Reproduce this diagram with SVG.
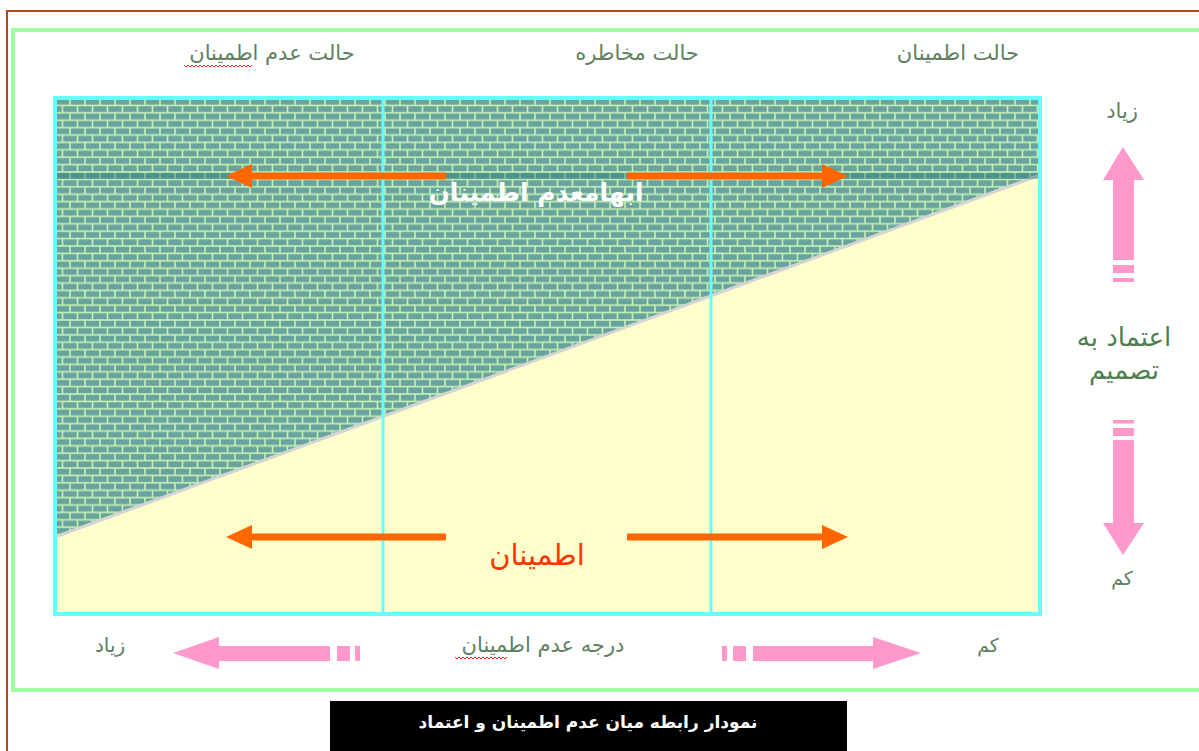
<svg xmlns="http://www.w3.org/2000/svg" width="1199" height="751" viewBox="0 0 1199 751">
<style>
.lbl{font-family:"DejaVu Sans",sans-serif;fill:#608060;text-anchor:middle}
.big{font-family:"DejaVu Sans",sans-serif;fill:#4f7f4f;text-anchor:middle;font-size:26px}
.orange{fill:#ff6600}
.pink{fill:#ff99cc}
.sq{fill:none;stroke:#ff2020;stroke-width:1}
</style>
<defs>
<pattern id="brick" patternUnits="userSpaceOnUse" x="55" y="98" width="15" height="14.8">
<rect width="15" height="14.8" fill="#c6f2b4"/>
<rect x="0.8" y="0.8" width="13.4" height="5.8" fill="#68a39e"/>
<rect x="-6.7" y="8.2" width="13.4" height="5.8" fill="#68a39e"/>
<rect x="8.3" y="8.2" width="13.4" height="5.8" fill="#68a39e"/>
</pattern>
</defs>
<rect width="1199" height="751" fill="#ffffff"/>
<g id="frames">
<path d="M7,751 V11 H1199" fill="none" stroke="#b5461a" stroke-width="2"/>
<path d="M1199,30 H13 V690 H1199" fill="none" stroke="#a0ffa0" stroke-width="4"/>
</g>
<g id="chart">
<polygon points="55,98 1040,98 1040,175 55,537" fill="url(#brick)"/>
<polygon points="55,537 1040,175 1040,614 55,614" fill="#ffffcc"/>
<line x1="55" y1="537" x2="1040" y2="175" stroke="#d4d4d4" stroke-width="3"/>
<rect x="55" y="173" width="985" height="6" fill="#2f7f7a" opacity="0.45"/>
<rect x="55" y="98" width="985" height="516" fill="none" stroke="#66ffff" stroke-width="4"/>
<line x1="383" y1="98" x2="383" y2="614" stroke="#66ffff" stroke-width="3"/>
<line x1="711" y1="98" x2="711" y2="614" stroke="#66ffff" stroke-width="3"/>
</g>
<g id="connectors">
<polygon class="orange" points="226,176 252,164 252,172.5 446,172.5 446,179.5 252,179.5 252,188"/>
<polygon class="orange" points="848,176 822,164 822,172.5 627,172.5 627,179.5 822,179.5 822,188"/>
<polygon class="orange" points="226,537 252,525 252,533.5 446,533.5 446,540.5 252,540.5 252,549"/>
<polygon class="orange" points="848,537 822,525 822,533.5 627,533.5 627,540.5 822,540.5 822,549"/>
<g id="pink-arrows">
<polygon class="pink" points="1123,147 1144,180 1134,180 1134,260 1113,260 1113,180 1103,180"/>
<rect class="pink" x="1113" y="265" width="21" height="8"/>
<rect class="pink" x="1113" y="278" width="21" height="4"/>
<rect class="pink" x="1113" y="420" width="21" height="3.5"/>
<rect class="pink" x="1113" y="428" width="21" height="8"/>
<polygon class="pink" points="1123,555 1144,523 1134,523 1134,440 1113,440 1113,523 1103,523"/>
<polygon class="pink" points="173,653 219,637 219,646 330,646 330,661 219,661 219,669"/>
<rect class="pink" x="337" y="646" width="13" height="15"/>
<rect class="pink" x="355" y="646" width="5" height="15"/>
<polygon class="pink" points="921,653 873,637 873,646 753,646 753,661 873,661 873,669"/>
<rect class="pink" x="733" y="646" width="13" height="15"/>
<rect class="pink" x="722" y="646" width="5" height="15"/>
</g>
</g>
<g id="top-labels">
<text class="lbl" x="272" y="60" font-size="21">حالت عدم اطمینان</text>
<path class="sq" d="M184,65 l2,2 2,-2 2,2 2,-2 2,2 2,-2 2,2 2,-2 2,2 2,-2 2,2 2,-2 2,2 2,-2 2,2 2,-2 2,2 2,-2 2,2 2,-2 2,2 2,-2 2,2 2,-2 2,2 2,-2 2,2 2,-2 2,2 2,-2 2,2 2,-2 2,2 2,-2"/>
<text class="lbl" x="637" y="60" font-size="21">حالت مخاطره</text>
<text class="lbl" x="958" y="60" font-size="21">حالت اطمینان</text>
</g>
<g id="area-labels">
<text x="536" y="201" font-family="DejaVu Sans,sans-serif" font-size="25" font-weight="bold" fill="#ffffff" text-anchor="middle">ابهامعدم اطمینان</text>
<text x="537" y="565" font-family="DejaVu Sans,sans-serif" font-size="29" fill="#ff3300" text-anchor="middle">اطمینان</text>
</g>
<g id="right-labels">
<text class="lbl" x="1122" y="118" font-size="21">زیاد</text>
<text class="big" x="1124" y="346">اعتماد به</text>
<text class="big" x="1124" y="379">تصمیم</text>
<text class="lbl" x="1122" y="585" font-size="19">کم</text>
</g>
<g id="bottom-labels">
<text class="lbl" x="110" y="652" font-size="20">زیاد</text>
<text class="lbl" x="543" y="652" font-size="21">درجه عدم اطمینان</text>
<path class="sq" d="M455,657 l2,2 2,-2 2,2 2,-2 2,2 2,-2 2,2 2,-2 2,2 2,-2 2,2 2,-2 2,2 2,-2 2,2 2,-2 2,2 2,-2 2,2 2,-2 2,2 2,-2 2,2 2,-2 2,2 2,-2"/>
<text class="lbl" x="988" y="652" font-size="19">کم</text>
</g>
<g id="caption">
<rect x="330" y="701" width="517" height="50" fill="#000000"/>
<text x="588" y="728" font-family="DejaVu Sans,sans-serif" font-size="17" font-weight="bold" fill="#ffffff" text-anchor="middle">نمودار رابطه میان عدم اطمینان و اعتماد</text>
</g>
</svg>
